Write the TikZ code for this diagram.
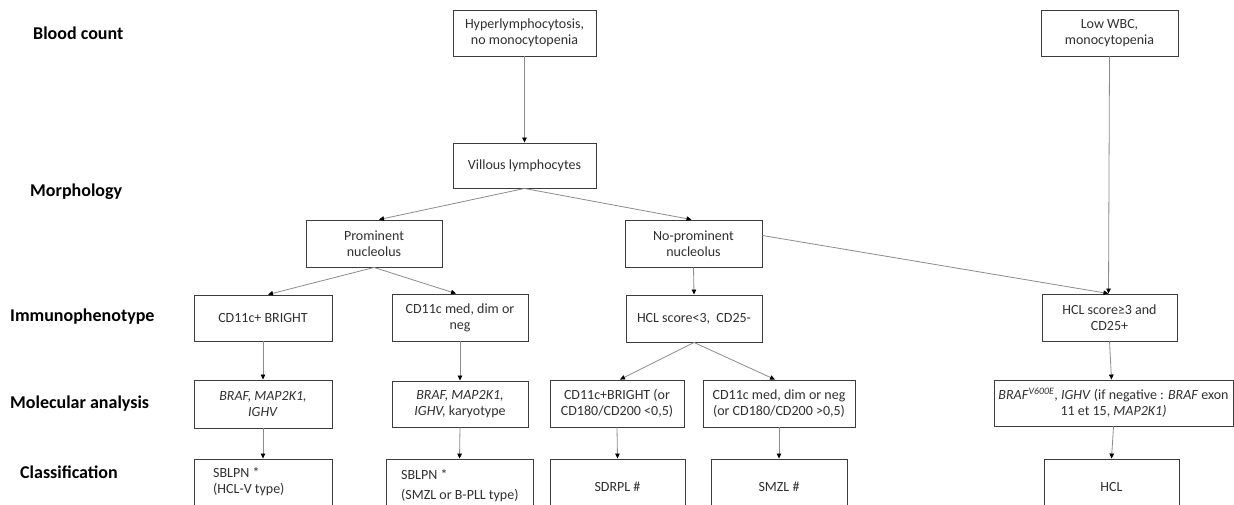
\documentclass[tikz,border=0pt]{standalone}
\usepackage{fontspec}
\setmainfont{Carlito}
\usetikzlibrary{arrows.meta}
\definecolor{boxline}{HTML}{3C3C3C}
\definecolor{boxtext}{HTML}{303030}
\definecolor{conn}{HTML}{8C8C8C}
\tikzset{
  box/.style={draw=boxline, line width=0.9pt, inner sep=0pt, align=center,
    text=boxtext, font=\fontsize{14}{16}\selectfont},
  rowlabel/.style={anchor=west, inner sep=0pt, font=\fontsize{18}{20}\selectfont\bfseries, text=black},
  clstext/.style={anchor=west, inner sep=0pt, align=left, text=boxtext, font=\fontsize{14}{16}\selectfont},
  conn/.style={draw=conn, line width=0.8pt, -{Triangle[length=5pt,width=4.5pt,color=black]}},
}
\begin{document}
\begin{tikzpicture}[x=1pt,y=-1pt]
\path[use as bounding box] (0,0) rectangle (1234,504);
\clip (0,0) rectangle (1234,504);
\fill[white] (0,0) rectangle (1234,504);

% row labels
\node[rowlabel] (lb1) at (33,33) {Blood count};
\node[rowlabel] (lb2) at (30,192) {Morphology};
\node[rowlabel] (lb3) at (10,317) {Immunophenotype};
\node[rowlabel] (lb4) at (10,404) {Molecular analysis};
\node[rowlabel] (lb5) at (20,472) {Classification};

% blood count
\node[box, minimum width=143, minimum height=46] (hyper) at (524.5,33) {Hyperlymphocytosis,\\no monocytopenia};
\node[box, minimum width=137, minimum height=46] (lowwbc) at (1109.5,33) {Low WBC,\\monocytopenia};

% morphology
\node[box, minimum width=143, minimum height=45] (villous) at (524.5,165.5) {Villous lymphocytes};
\node[box, minimum width=136, minimum height=47] (prom) at (374,243.5) {Prominent\\nucleolus};
\node[box, minimum width=137, minimum height=47] (noprom) at (693.5,243.5) {No-prominent\\nucleolus};

% immunophenotype
\node[box, minimum width=138, minimum height=46] (cdbright) at (263,318) {CD11c+ BRIGHT};
\node[box, minimum width=136, minimum height=47] (cdmed) at (460,317.5) {CD11c med, dim or\\neg};
\node[box, minimum width=136, minimum height=47] (hcllow) at (694,318.5) {HCL score<3,\ \ CD25-};
\node[box, minimum width=135, minimum height=47] (hclhigh) at (1109.5,317.5) {HCL score≥3 and\\CD25+};

% molecular analysis
\node[box, minimum width=138, minimum height=48] (mol1) at (263,404) {\textit{BRAF, MAP2K1,}\\\textit{IGHV}};
\node[box, minimum width=136, minimum height=46] (mol2) at (460,404) {\textit{BRAF, MAP2K1,}\\\textit{IGHV,} karyotype};
\node[box, minimum width=134, minimum height=47] (mol3) at (617,403.5) {CD11c+BRIGHT (or\\CD180/CD200 <0,5)};
\node[box, minimum width=152, minimum height=47] (mol4) at (779,403.5) {CD11c med, dim or neg\\(or CD180/CD200 >0,5)};
\node[box, minimum width=239, minimum height=46] (mol5) at (1113.5,403) {\textit{BRAF}\textsuperscript{\textit{V600E}}, \textit{IGHV} (if negative : \textit{BRAF} exon\\11 et 15, \textit{MAP2K1)}};

% classification
\node[box, minimum width=138, minimum height=56] (cls1) at (263,487) {};
\node[box, minimum width=147, minimum height=56] (cls2) at (459.5,487) {};
\node[box, minimum width=135, minimum height=56] (cls3) at (617.5,487) {SDRPL \#};
\node[box, minimum width=136, minimum height=56] (cls4) at (779,487) {SMZL \#};
\node[box, minimum width=135, minimum height=56] (cls5) at (1111.5,487) {HCL};
\node[clstext, font=\fontsize{14}{16}\selectfont] (cls1t) at (213,482) {SBLPN *\\(HCL-V type)};
\node[clstext, font=\fontsize{14}{20}\selectfont] (cls2t) at (401,486) {SBLPN *\\(SMZL or B-PLL type)};

% connectors
\draw[conn] (hyper.south) -- (villous.north);
\draw[conn] (villous.south) -- ([xshift=5]prom.north);
\draw[conn] (villous.south) -- ([xshift=-2]noprom.north);
\draw[conn] (noprom.east) ++(0,-8) coordinate (npe) (npe) -- ([xshift=-1]hclhigh.north);
\draw[conn] (lowwbc.south) -- ([xshift=-1]hclhigh.north);
\draw[conn] (prom.south) -- ([xshift=5]cdbright.north);
\draw[conn] (prom.south) -- ([xshift=-4]cdmed.north);
\draw[conn] (noprom.south) -- (hcllow.north);
\draw[conn] (cdbright.south) -- (mol1.north);
\draw[conn] (mol1.south) -- (cls1.north);
\draw[conn] (cdmed.south) -- (mol2.north);
\draw[conn] (mol2.south) -- (cls2.north);
\draw[conn] (hcllow.south) -- ([xshift=3]mol3.north);
\draw[conn] (hcllow.south) -- ([xshift=-4]mol4.north);
\draw[conn] (mol3.south) -- (cls3.north);
\draw[conn] (mol4.south) -- (cls4.north);
\draw[conn] (hclhigh.south) -- ([xshift=-2]mol5.north);
\draw[conn] (mol5.south) -- (cls5.north);
\end{tikzpicture}
\end{document}
